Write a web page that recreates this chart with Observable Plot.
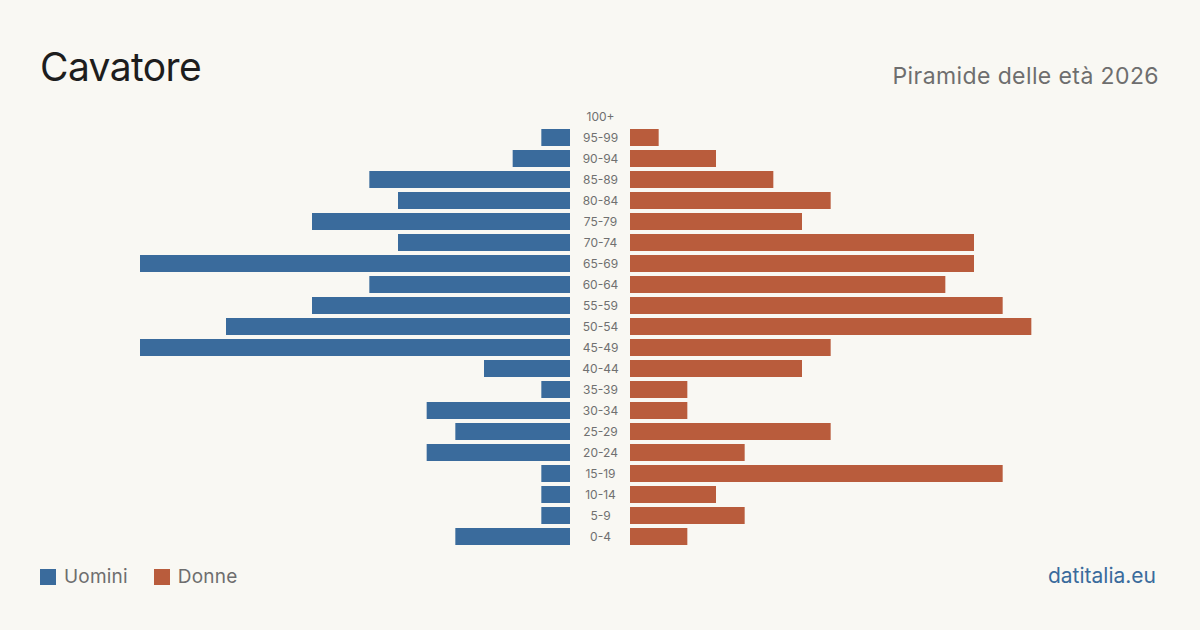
<!DOCTYPE html>
<html><head><meta charset="utf-8">
<script src="https://cdn.jsdelivr.net/npm/d3@7"></script>
<script src="https://cdn.jsdelivr.net/npm/@observablehq/plot@0.6"></script>
<style>
html,body{margin:0;padding:0;background:#f9f8f3;}
body{width:1200px;height:630px;position:relative;overflow:hidden;font-family:Inter,"Noto Sans",sans-serif;}
#chart{position:absolute;left:0;top:0;}
.title{position:absolute;left:40px;top:47px;font-size:39px;color:#1d1d1d;letter-spacing:-0.6px;line-height:1;}
.sub{position:absolute;right:41px;top:65px;font-size:23px;color:#6e6e6e;line-height:1;letter-spacing:0.4px;}
.legend{position:absolute;left:40px;top:567px;font-size:19px;color:#6e6e6e;display:flex;align-items:center;line-height:1;letter-spacing:0.2px;}
.legend span.sw{display:inline-block;width:16px;height:16px;margin-right:8px;}
.legend .item{display:flex;align-items:center;margin-right:26px;}
.src{position:absolute;right:44px;top:565px;font-size:21px;color:#3a6b9c;line-height:1;}
</style></head><body>
<div id="chart"></div>
<div class="title">Cavatore</div>
<div class="sub">Piramide delle età 2026</div>
<div class="legend"><div class="item"><span class="sw" style="background:#3a6b9c"></span>Uomini</div><div class="item"><span class="sw" style="background:#b95c3c"></span>Donne</div></div>
<div class="src">datitalia.eu</div>
<script>
const ageGroups = ["100+","95-99","90-94","85-89","80-84","75-79","70-74","65-69","60-64","55-59","50-54","45-49","40-44","35-39","30-34","25-29","20-24","15-19","10-14","5-9","0-4"];
const males   = [0,1,2,7,6,9,6,15,7,9,12,15,3,1,5,4,5,1,1,1,4];
const females = [0,1,3,5,7,6,12,12,11,13,14,7,6,2,2,7,4,13,3,4,2];
const maleColor = "#3a6b9c", femaleColor = "#b95c3c";
const rows = ageGroups.map((a,i)=>({age:a, m:males[i], f:females[i]}));
const plot = Plot.plot({
  width:1200, height:630,
  marginTop:0, marginBottom:0, marginLeft:0, marginRight:0,
  style:{background:"transparent", fontFamily:"Inter, 'Noto Sans', sans-serif"},
  x:{domain:[-15,15], range:[170,1030], axis:null},
  y:{domain:ageGroups, range:[106.5,547.5], paddingInner:0.19, paddingOuter:0.095, axis:null},
  marks:[
    Plot.barX(rows,{y:"age", x1:0, x2:d=>-d.m, dx:-30, fill:maleColor}),
    Plot.barX(rows,{y:"age", x1:0, x2:d=>d.f, dx:30, fill:femaleColor}),
    Plot.text(rows,{y:"age", x:0, text:"age", fill:"#707070", fontSize:12})
  ]
});
document.getElementById("chart").appendChild(plot);
</script>
</body></html>
